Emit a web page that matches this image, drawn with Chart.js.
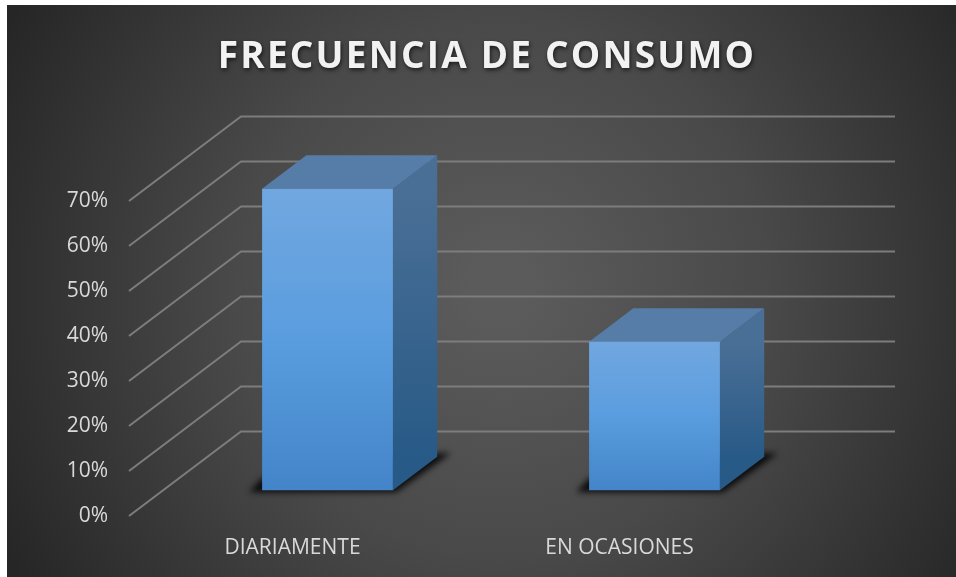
<!DOCTYPE html>
<html>
<head>
<meta charset="utf-8">
<title>Frecuencia de consumo</title>
<script src="https://cdn.jsdelivr.net/npm/chart.js@4"></script>
<style>
    html, body { margin: 0; padding: 0; background: #fff; }
    canvas { display: block; }
</style>
</head>
<body>
<canvas id="myChart" width="956" height="577"></canvas>
<script>
const categories = ["DIARIAMENTE", "EN OCASIONES"];
const percentValues = [67, 33];
const yTicks = [0, 10, 20, 30, 40, 50, 60, 70];
const chartTitle = "FRECUENCIA DE CONSUMO";

// 3D look: the wall sits behind the axis plane, bars sit part way in the floor
const wallShift = { x: 112, y: -84.5 };
const barShift = { x: 35, y: -25.7 };
const barDepth = { x: 44.3, y: -33.6 };

const fake3d = {
    id: 'fake3d',
    afterLayout(chart) {
        // title is not centred on the plot in the original
        const block = chart.titleBlock;
        block.left = 18;
        block.right = 956;
        if (!block.patched) {
            const drawTitle = block.draw;
            block.draw = function(area) {
                const c = chart.ctx;
                c.save();
                c.letterSpacing = '2.2px';
                c.shadowColor = 'rgba(0,0,0,0.65)';
                c.shadowBlur = 4;
                c.shadowOffsetX = 1;
                c.shadowOffsetY = 2;
                drawTitle.call(this, area);
                c.restore();
            };
            block.patched = true;
        }
    },
    beforeDraw(chart) {
        const c = chart.ctx;
        const bg = c.createRadialGradient(500, 290, 30, 500, 290, 560);
        bg.addColorStop(0, '#5b5b5b');
        bg.addColorStop(0.45, '#494949');
        bg.addColorStop(1, '#262626');
        c.save();
        c.fillStyle = bg;
        c.fillRect(7, 5, 949, 572);
        c.restore();
    },
    beforeDatasetsDraw(chart) {
        const c = chart.ctx;
        const { left, right } = chart.chartArea;
        const y = chart.scales.y;

        c.save();
        c.strokeStyle = '#7d7d7d';
        c.lineWidth = 2;
        yTicks.forEach(v => {
            const py = y.getPixelForValue(v);
            c.beginPath();
            c.moveTo(left, py);
            c.lineTo(left + wallShift.x, py + wallShift.y);
            c.lineTo(right + wallShift.x, py + wallShift.y);
            c.stroke();
        });
        c.restore();

        // everything below is shifted in to the bar's depth
        c.save();
        c.translate(barShift.x, barShift.y);
        chart.getDatasetMeta(0).data.forEach(bar => {
            const x0 = bar.x - bar.width / 2;
            const x1 = bar.x + bar.width / 2;
            const top = bar.y;
            const base = bar.base;

            // floor shadow
            c.save();
            c.filter = 'blur(3px)';
            c.fillStyle = 'rgba(0,0,0,0.85)';
            c.beginPath();
            c.moveTo(x0 - 13, base + 2);
            c.lineTo(x1 + 3, base + 2);
            c.lineTo(x1 + 58, base - 37);
            c.lineTo(x1 + 30, base - 37);
            c.lineTo(x0, base - 12);
            c.closePath();
            c.fill();
            c.restore();

            // side face
            const side = c.createLinearGradient(0, top, 0, base + barDepth.y);
            side.addColorStop(0, '#4a6f96');
            side.addColorStop(1, '#285a87');
            c.fillStyle = side;
            c.beginPath();
            c.moveTo(x1, top);
            c.lineTo(x1 + barDepth.x, top + barDepth.y);
            c.lineTo(x1 + barDepth.x, base + barDepth.y);
            c.lineTo(x1, base);
            c.closePath();
            c.fill();

            // top face
            c.fillStyle = '#567ca8';
            c.beginPath();
            c.moveTo(x0, top);
            c.lineTo(x0 + barDepth.x, top + barDepth.y);
            c.lineTo(x1 + barDepth.x, top + barDepth.y);
            c.lineTo(x1, top);
            c.closePath();
            c.fill();
        });
    },
    afterDatasetsDraw(chart) {
        chart.ctx.restore();
    }
};

new Chart(document.getElementById('myChart'), {
    type: 'bar',
    data: {
        labels: categories,
        datasets: [{
            data: percentValues,
            clip: false,
            barPercentage: 0.4,
            categoryPercentage: 1,
            backgroundColor: function(context) {
                const chart = context.chart;
                if (!chart.chartArea || context.parsed === undefined) return '#5a9ddf';
                const y = chart.scales.y;
                const g = chart.ctx.createLinearGradient(0, y.getPixelForValue(context.parsed.y), 0, y.getPixelForValue(0));
                g.addColorStop(0, '#71a7e0');
                g.addColorStop(0.5, '#5a9ddf');
                g.addColorStop(1, '#4385c8');
                return g;
            }
        }]
    },
    options: {
        responsive: false,
        animation: false,
        layout: { padding: { left: 0, right: 173, top: 0, bottom: 0 } },
        plugins: {
            legend: { display: false },
            tooltip: { enabled: false },
            title: {
                display: true,
                text: chartTitle,
                color: '#f2f2f2',
                font: { family: '"Open Sans"', size: 37, weight: 'bold', lineHeight: 1.2 },
                padding: { top: 35, bottom: 121.6 }
            }
        },
        scales: {
            x: {
                grid: { display: false, drawTicks: false },
                border: { display: false },
                ticks: { color: '#d9d9d9', font: { family: '"Open Sans"', size: 21 }, padding: 19, maxRotation: 0 },
                afterFit(scale) { scale.height = 61; }
            },
            y: {
                min: 0,
                max: 70,
                grid: { display: false, drawTicks: false },
                border: { display: false },
                ticks: {
                    stepSize: 10,
                    color: '#d9d9d9',
                    font: { family: '"Open Sans"', size: 21 },
                    padding: 21,
                    callback: value => value + '%'
                },
                afterFit(scale) { scale.width = 129; }
            }
        }
    },
    plugins: [fake3d]
});
</script>
</body>
</html>
